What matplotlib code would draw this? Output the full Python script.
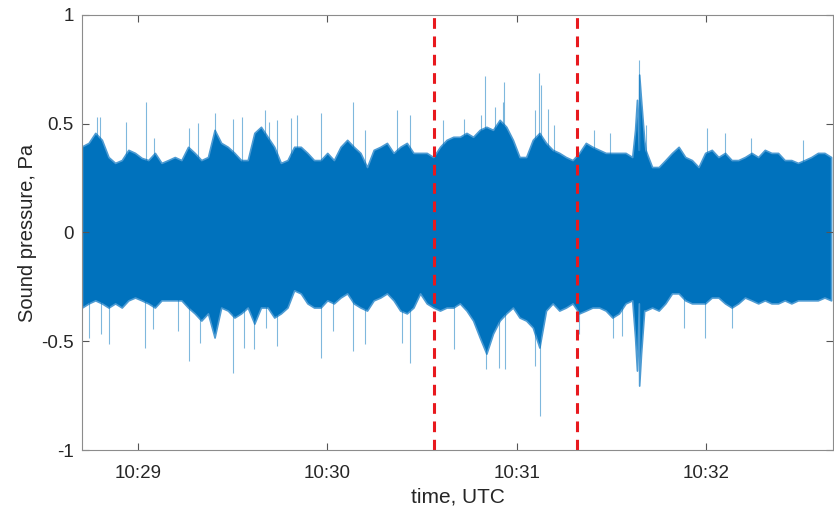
import datetime as dt
import matplotlib
matplotlib.use('Agg')
import matplotlib.pyplot as plt
import matplotlib.dates as mdates
import numpy as np

plt.rcParams['font.family'] = ['Liberation Sans', 'DejaVu Sans']
plt.rcParams['axes.unicode_minus'] = False

# time axis: seconds after 10:28:00 UTC
tStart = 42.3
tEnd = 280.2
envStep = 2.1
redLines = [153.9, 199.1]

# envelope of the dense waveform, read every ~2.1 s
envTop = [0.396, 0.412, 0.458, 0.426, 0.347, 0.320, 0.333, 0.380, 0.366, 0.343,
          0.333, 0.366, 0.320, 0.333, 0.347, 0.333, 0.394, 0.366, 0.333, 0.347,
          0.472, 0.412, 0.394, 0.366, 0.333, 0.333, 0.458, 0.486, 0.440, 0.394,
          0.320, 0.333, 0.394, 0.394, 0.366, 0.333, 0.333, 0.366,
          0.333, 0.394, 0.426, 0.394, 0.366, 0.301, 0.380, 0.394, 0.412, 0.366,
          0.394, 0.412, 0.366, 0.366, 0.366, 0.347, 0.394, 0.426, 0.440, 0.440,
          0.458, 0.440, 0.472, 0.486, 0.472, 0.518, 0.486, 0.426, 0.347, 0.347,
          0.426, 0.458, 0.412, 0.380, 0.366, 0.347, 0.333, 0.366,
          0.412, 0.394, 0.380, 0.366, 0.366, 0.366, 0.366, 0.347, 0.380, 0.380,
          0.301, 0.301, 0.333, 0.366, 0.394, 0.347, 0.333, 0.301, 0.366, 0.380,
          0.347, 0.366, 0.333, 0.333, 0.347, 0.366, 0.347, 0.380, 0.366, 0.366,
          0.333, 0.333, 0.320, 0.333, 0.347, 0.366, 0.366, 0.347]
envBottom = [-0.345, -0.326, -0.312, -0.326, -0.345, -0.326, -0.345, -0.312, -0.299, -0.312,
             -0.326, -0.345, -0.312, -0.312, -0.312, -0.312, -0.345, -0.372, -0.405, -0.372,
             -0.483, -0.345, -0.359, -0.391, -0.372, -0.345, -0.419, -0.345, -0.345, -0.391,
             -0.372, -0.345, -0.266, -0.280, -0.326, -0.345, -0.345, -0.312,
             -0.326, -0.299, -0.280, -0.326, -0.345, -0.359, -0.312, -0.299, -0.280, -0.312,
             -0.359, -0.372, -0.345, -0.280, -0.326, -0.345, -0.359, -0.345, -0.345, -0.326,
             -0.359, -0.405, -0.483, -0.557, -0.465, -0.405, -0.372, -0.345, -0.391, -0.405,
             -0.437, -0.529, -0.359, -0.326, -0.359, -0.345, -0.326, -0.372,
             -0.359, -0.345, -0.345, -0.359, -0.391, -0.372, -0.326, -0.312, -0.326, -0.359,
             -0.345, -0.359, -0.326, -0.280, -0.280, -0.312, -0.326, -0.326, -0.326, -0.299,
             -0.299, -0.326, -0.345, -0.326, -0.299, -0.312, -0.326, -0.312, -0.326, -0.326,
             -0.312, -0.326, -0.312, -0.312, -0.312, -0.312, -0.299, -0.312]

# the burst near 10:31:39
burstT = [217.5, 218.1, 218.8, 219.4, 220.4]
burstTop = [0.472, 0.610, 0.726, 0.610, 0.426]
burstBottom = [-0.483, -0.635, -0.704, -0.557, -0.359]

# isolated spikes
spikeUpT = [47.0, 48.0, 56.2, 62.5, 65.1, 76.1, 79.0, 84.4, 90.0, 92.9, 100.2, 101.4,
            104.0, 108.4, 110.3, 117.9, 128.0, 131.8, 142.2, 146.3, 156.8, 163.4, 168.8,
            170.1, 173.2, 175.8, 176.1, 185.9, 187.1, 187.8, 190.0, 191.9, 204.5, 209.6,
            218.8, 221.0, 240.3, 246.0, 254.2, 270.6]
spikeUpV = [0.532, 0.532, 0.509, 0.601, 0.435, 0.481, 0.504, 0.550, 0.523, 0.532, 0.564, 0.509,
            0.518, 0.527, 0.541, 0.550, 0.601, 0.472, 0.564, 0.541, 0.518, 0.523, 0.541,
            0.721, 0.578, 0.601, 0.693, 0.564, 0.735, 0.679, 0.569, 0.495, 0.472, 0.458,
            0.795, 0.495, 0.481, 0.458, 0.435, 0.426]
spikeDownT = [44.5, 48.3, 50.8, 62.2, 64.8, 72.7, 76.1, 79.6, 90.0, 93.5, 96.7, 100.5,
              104.0, 117.9, 121.7, 128.0, 131.8, 143.8, 146.3, 160.3, 170.4, 174.5, 176.4,
              185.9, 187.5, 199.8, 210.5, 213.4, 233.0, 239.6, 248.2]
spikeDownV = [-0.483, -0.465, -0.511, -0.529, -0.442, -0.451, -0.590, -0.506, -0.645, -0.529,
              -0.534, -0.437, -0.520, -0.575, -0.451, -0.543, -0.511, -0.506, -0.598, -0.534,
              -0.627, -0.622, -0.627, -0.613, -0.844, -0.465, -0.483, -0.474, -0.437, -0.483,
              -0.437]

base = dt.datetime(2000, 1, 1, 10, 28, 0)


def toTime(sec):
    return [base + dt.timedelta(seconds=float(s)) for s in sec]


envT = tStart + envStep * np.arange(len(envTop))
allT = np.concatenate([envT, burstT])
order = np.argsort(allT)
allT = allT[order]
allTop = np.concatenate([envTop, burstTop])[order]
allBottom = np.concatenate([envBottom, burstBottom])[order]

blue = '#0072BD'
fig = plt.figure(figsize=(8.34, 5.15), dpi=100)
ax = fig.add_axes([0.0983, 0.1262, 0.9005, 0.8447])

ax.fill_between(toTime(allT), allBottom, allTop, color=blue, linewidth=1.2,
                edgecolor='#4d9bd3')
ax.vlines(toTime(spikeUpT), 0, spikeUpV, color=blue, alpha=0.5, linewidth=0.8)
ax.vlines(toTime(spikeDownT), spikeDownV, 0, color=blue, alpha=0.5, linewidth=0.8)

for r in redLines:
    ax.axvline(toTime([r])[0], color='#E8191E', linestyle=(0, (3.5, 2.5)), linewidth=2.2)

ax.set_xlim(toTime([tStart])[0], toTime([tEnd])[0])
ax.set_ylim(-1, 1)
ax.set_yticks([-1, -0.5, 0, 0.5, 1])
ax.set_yticklabels(['-1', '-0.5', '0', '0.5', '1'])
ax.xaxis.set_major_locator(mdates.MinuteLocator())
ax.xaxis.set_major_formatter(mdates.DateFormatter('%H:%M'))

for s in ax.spines.values():
    s.set_color('#8c8c8c')
    s.set_linewidth(0.8)
ax.tick_params(direction='in', top=True, right=True, length=5, width=0.8,
               color='#555555', labelsize=13.5, labelcolor='#262626', pad=6)
ax.tick_params(axis='x', pad=11)
ax.set_xlabel('time, UTC', fontsize=15, color='#262626', labelpad=4)
ax.set_ylabel('Sound pressure, Pa', fontsize=14.5, color='#262626', labelpad=3)

fig.savefig('out.png', dpi=100)
